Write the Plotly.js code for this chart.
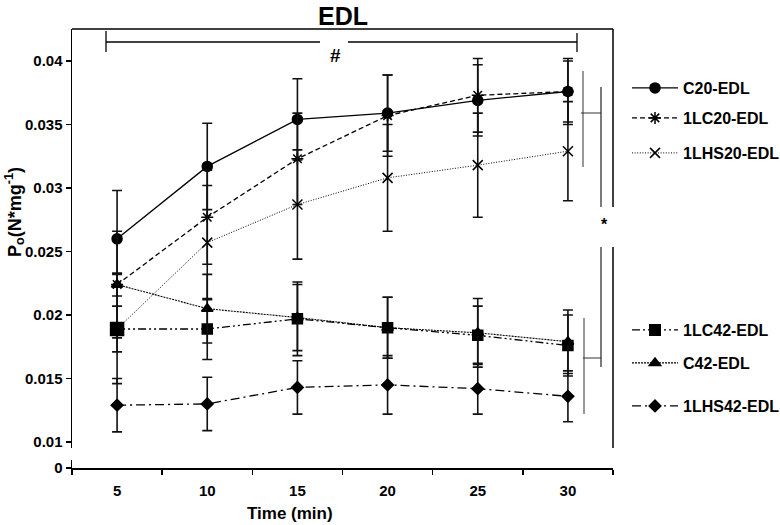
<!DOCTYPE html>
<html><head><meta charset="utf-8">
<script src="https://cdn.plot.ly/plotly-3.0.1.min.js"></script>
<style>html,body{margin:0;padding:0;background:#fff}#chart{width:780px;height:525px}</style>
</head><body><div id="chart"></div>
<script>
// ---- data ----
const times = ['5','10','15','20','25','30'];
const seriesNames = ['C20-EDL','1LC20-EDL','1LHS20-EDL','1LC42-EDL','C42-EDL','1LHS42-EDL'];
const c20      = [0.0260, 0.0317, 0.0354, 0.0359, 0.0369, 0.0376];
const c20Err   = [0.0038, 0.0034, 0.0032, 0.0030, 0.0028, 0.0026];
const lc20     = [0.0224, 0.0277, 0.0323, 0.0357, 0.0373, 0.0376];
const lc20Err  = [0.0042, 0.0037, 0.0036, 0.0032, 0.0029, 0.0024];
const lhs20    = [0.0189, 0.0257, 0.0287, 0.0308, 0.0318, 0.0329];
const lhs20Err = [0.0018, 0.0045, 0.0043, 0.0042, 0.0041, 0.0039];
const lc42     = [0.0189, 0.0189, 0.0197, 0.0190, 0.0184, 0.0176];
const lc42Err  = [0.0043, 0.0024, 0.0029, 0.0024, 0.0023, 0.0024];
const c42      = [0.0224, 0.0205, 0.0198, 0.0190, 0.0186, 0.0179];
const c42Err   = [0.0009, 0.0027, 0.0026, 0.0024, 0.0027, 0.0025];
const lhs42    = [0.0129, 0.0130, 0.0143, 0.0145, 0.0142, 0.0136];
const lhs42Err = [0.0021, 0.0021, 0.0021, 0.0023, 0.0020, 0.0020];
const yTickVals = [0.01, 0.015, 0.02, 0.025, 0.03, 0.035, 0.04];
const yTickText = ['0.01','0.015','0.02','0.025','0.03','0.035','0.04'];
const zeroTickVals = [0];
const zeroTickText = ['0'];

// ---- geometry helpers (plot area in pixels) ----
const L = 72, R = 613, T = 29, B = 468;
const px = x => (x - L) / (R - L);
const py = y => (B - y) / (B - T);
const FONT = 'Liberation Sans, Arial, Helvetica, sans-serif';

const values = [c20, lc20, lhs20, lc42, c42, lhs42];
const errs = [c20Err, lc20Err, lhs20Err, lc42Err, c42Err, lhs42Err];
const styles = [
  {symbol:'circle', size:10, dash:'solid', width:1.3},
  {symbol:'asterisk-open', size:10, dash:'5px,3px', width:1.3},
  {symbol:'x-thin-open', size:10, dash:'1px,1.6px', width:1},
  {symbol:'square', size:[13,10,10,10,10,10], dash:'8px,3px,2px,3px,2px,3px', width:1.3},
  {symbol:'triangle-up', size:10, dash:'2px,1px', width:1.1},
  {symbol:'diamond', size:9, dash:'9px,4px,2px,4px', width:1.3}
];
const legendCentersPx = [88, 118, 153, 330, 363, 406];
const legendIds = ['legend','legend2','legend3','legend4','legend5','legend6'];

const traces = seriesNames.map((name, i) => ({
  type: 'scatter', mode: 'lines+markers', name: name,
  x: times, y: values[i], xaxis: 'x', yaxis: 'y',
  legend: legendIds[i],
  line: {color: '#000', width: styles[i].width, dash: styles[i].dash},
  marker: {symbol: styles[i].symbol, size: styles[i].size, color: '#000', opacity: 1,
           line: {color: '#000', width: 1.5}},
  error_y: {type: 'data', array: errs[i], visible: true, color: '#111',
            thickness: 1.6, width: 5}
}));
// invisible anchor trace so the lower (broken) axis segment with the 0 tick is drawn
traces.push({type: 'scatter', mode: 'markers', x: [times[0]], y: zeroTickVals,
  xaxis: 'x', yaxis: 'y2', showlegend: false, hoverinfo: 'skip',
  marker: {opacity: 0, size: 1}});

const layout = {
  width: 780, height: 525,
  margin: {l: L, r: 780 - R, t: T, b: 525 - B, pad: 0, autoexpand: false},
  paper_bgcolor: '#fff', plot_bgcolor: 'rgba(0,0,0,0)',
  font: {family: FONT, color: '#000', size: 15, weight: 'bold'},
  title: {text: 'EDL', font: {family: FONT, size: 25, weight: 'bold', color: '#000'},
          x: 343/780, xanchor: 'center', xref: 'container', y: 1 - 16/525, yanchor: 'middle'},
  xaxis: {type: 'category', anchor: 'y2', range: [-0.5, 5.5], tickson: 'boundaries',
          ticks: 'outside', ticklen: 5, tickwidth: 1.5, tickcolor: '#000',
          showline: true, linewidth: 2.2, linecolor: '#000', showgrid: false, zeroline: false,
          ticklabelstandoff: 8, automargin: false,
          tickfont: {family: FONT, size: 15, weight: 'bold', color: '#000'}},
  yaxis: {domain: [py(448), 1], range: [0.00953, 0.04252], anchor: 'x',
          tickvals: yTickVals, ticktext: yTickText, automargin: false,
          ticks: 'outside', ticklen: 5, tickwidth: 1.5, tickcolor: '#000',
          showline: true, linewidth: 1.5, linecolor: '#000', showgrid: false, zeroline: false,
          tickfont: {family: FONT, size: 15, weight: 'bold', color: '#000'}},
  yaxis2: {domain: [0, py(460)], range: [0, 1], anchor: 'x',
          tickvals: zeroTickVals, ticktext: zeroTickText, automargin: false,
          ticks: 'outside', ticklen: 5, tickwidth: 1.5, tickcolor: '#000',
          showline: true, linewidth: 1.5, linecolor: '#000', showgrid: false, zeroline: false,
          tickfont: {family: FONT, size: 15, weight: 'bold', color: '#000'}},
  showlegend: true,
  shapes: [],
  annotations: [
    {text: 'Time (min)', xref: 'paper', yref: 'paper', x: px(290), y: py(513),
     xanchor: 'center', yanchor: 'middle', showarrow: false,
     font: {family: FONT, size: 17, weight: 'bold', color: '#000'}},
    {text: 'P<sub>o</sub>(N*mg<sup>-1</sup>)', xref: 'paper', yref: 'paper', x: px(14), y: py(212),
     xanchor: 'center', yanchor: 'middle', showarrow: false, textangle: -90,
     font: {family: FONT, size: 18, weight: 'bold', color: '#000'}},
    {text: '#', xref: 'paper', yref: 'paper', x: px(335), y: py(55),
     xanchor: 'center', yanchor: 'middle', showarrow: false,
     font: {family: FONT, size: 19, color: '#000'}},
    {text: '*', xref: 'paper', yref: 'paper', x: px(604), y: py(224),
     xanchor: 'center', yanchor: 'middle', showarrow: false,
     font: {family: FONT, size: 16, color: '#000'}}
  ]
};

legendIds.forEach((id, i) => {
  layout[id] = {x: px(627), xanchor: 'left', y: py(legendCentersPx[i]), yanchor: 'middle',
    bgcolor: 'rgba(0,0,0,0)', borderwidth: 0, itemwidth: 46,
    font: {family: FONT, size: 16, weight: 'bold', color: '#000'}};
});

function seg(x0, y0, x1, y1, w, c) {
  layout.shapes.push({type: 'line', xref: 'paper', yref: 'paper',
    x0: px(x0), y0: py(y0), x1: px(x1), y1: py(y1),
    line: {color: c || '#000', width: w || 1.5}});
}
// frame top and right (with gap for *)
seg(72, 29, 613, 29, 1.5);
seg(613, 29, 613, 207, 1.5);
seg(613, 247, 613, 448, 1.5);
// # bracket
seg(106, 42, 320, 42, 1.3);
seg(348, 42, 577, 42, 1.3);
seg(106, 31, 106, 52, 1.3);
seg(577, 33, 577, 52, 1.3);
// * bracket
seg(583, 71, 583, 167, 1, '#333');
seg(581, 113, 601, 113, 1, '#333');
seg(601, 87, 601, 207, 1.2, '#222');
seg(601, 247, 601, 367, 1.2, '#222');
seg(584, 318, 584, 414, 1, '#333');
seg(583, 358, 601, 358, 1, '#333');

Plotly.newPlot('chart', traces, layout, {displayModeBar: false, staticPlot: true});
</script>
</body></html>
